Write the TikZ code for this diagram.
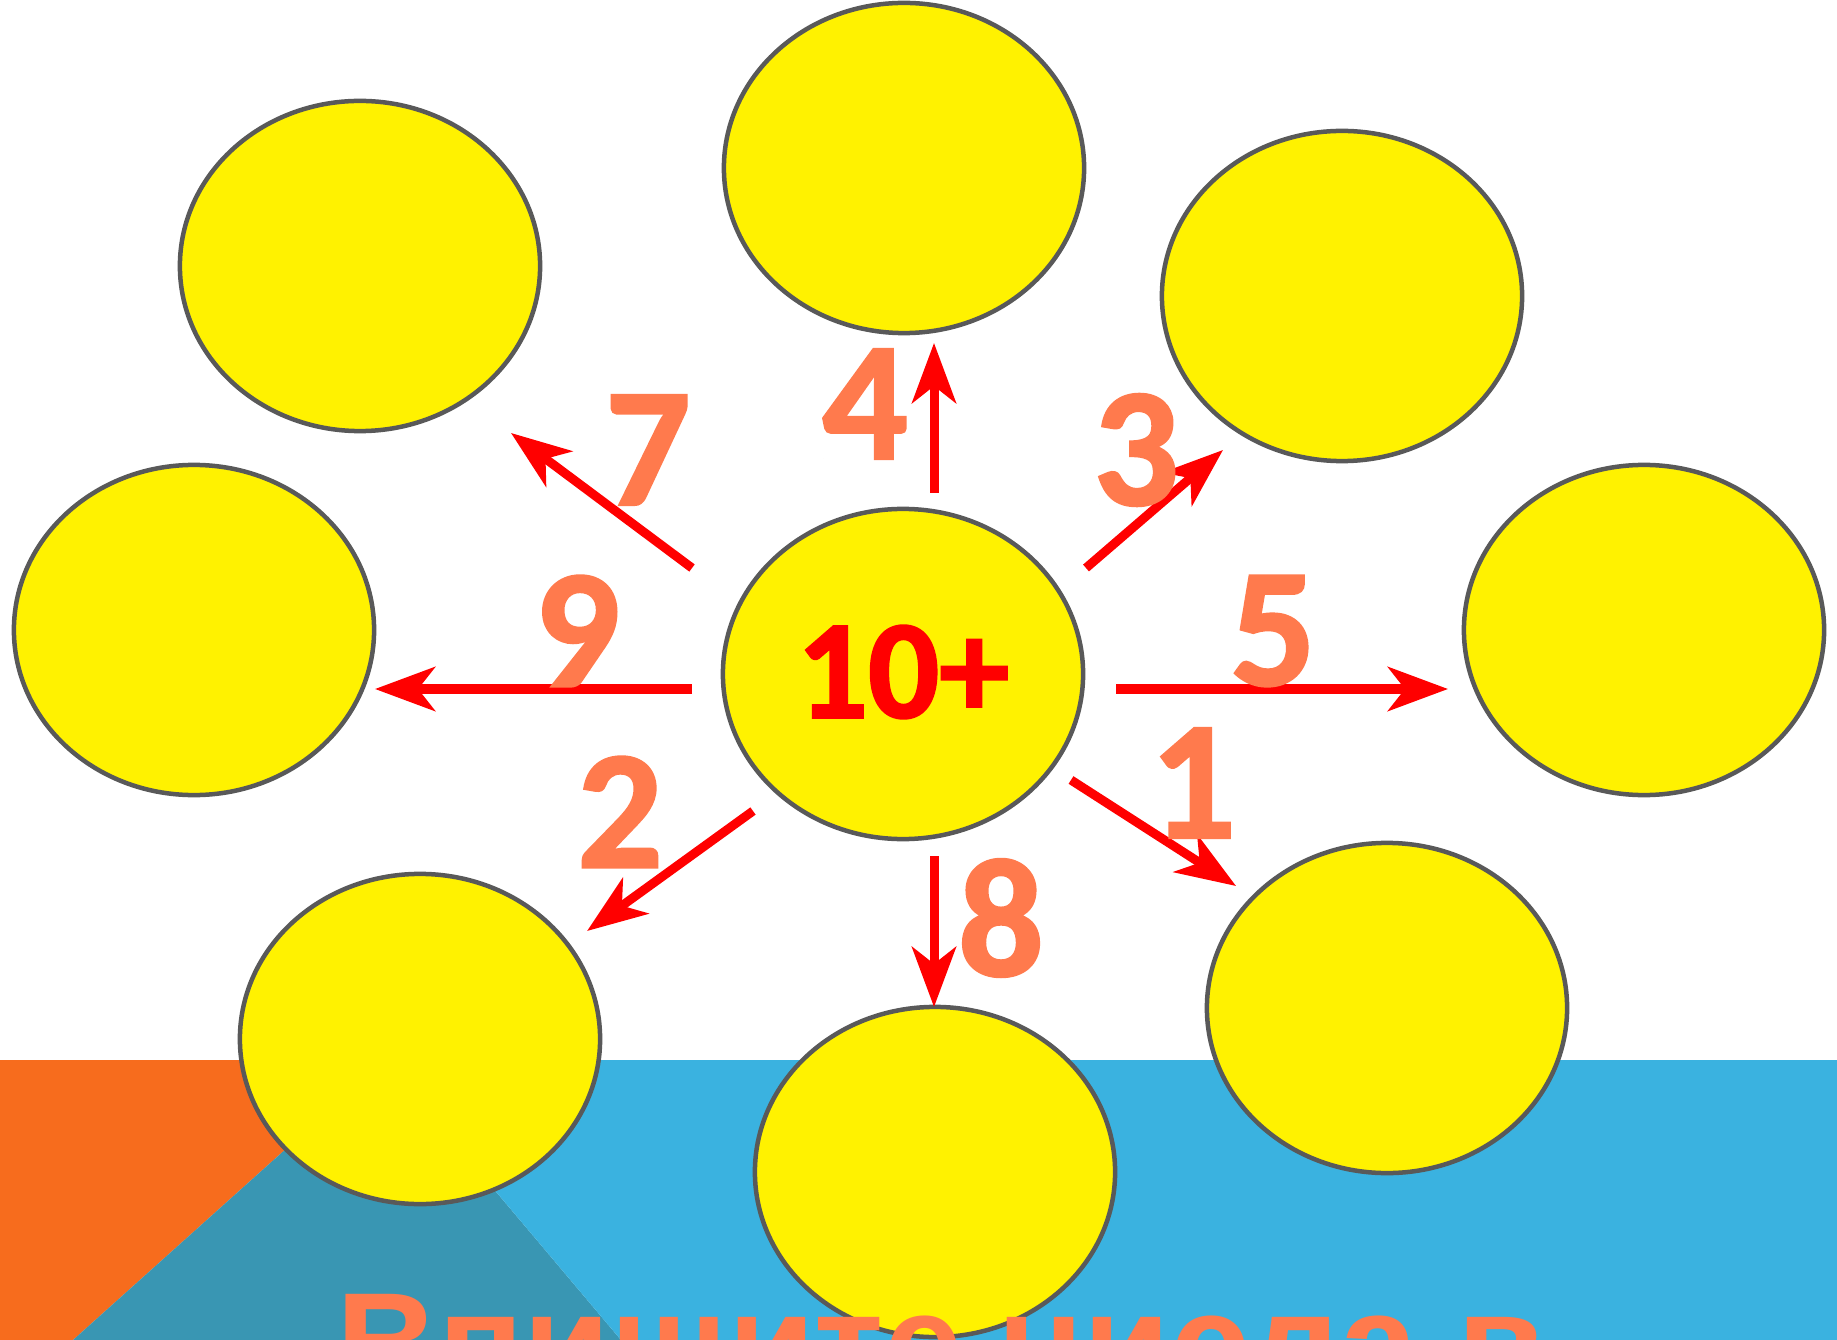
\documentclass[tikz,border=0pt]{standalone}
\usepackage{fontspec}
\setmainfont{Carlito}[BoldFeatures={FakeBold=1.6}]
\newfontfamily\capfont{Liberation Sans}
\usetikzlibrary{arrows.meta,shapes.geometric}
\definecolor{bandorange}{RGB}{247,108,29}
\definecolor{bandblue}{RGB}{58,178,224}
\definecolor{bandteal}{RGB}{57,150,179}
\definecolor{rim}{RGB}{89,89,89}
\definecolor{coral}{RGB}{255,122,77}

\begin{document}
\begin{tikzpicture}[
  x=0.01cm, y=-0.01cm,
  bubble/.style={ellipse,draw=rim,line width=0.045cm,fill=yellow,minimum width=3.6cm,minimum height=3.3cm,inner sep=0pt},
  num/.style={text=coral,font=\fontsize{48}{48}\selectfont\bfseries,inner sep=0pt},
  arr/.style={-{Stealth[length=0.6cm,width=0.44cm,inset=0.17cm]},red,line width=0.09cm}
]
  \useasboundingbox (0,0) rectangle (1837,1340);
  \clip (0,0) rectangle (1837,1340);
  % coloured band at the bottom
  \fill[bandorange] (0,1060) -- (385,1060) -- (73,1340) -- (0,1340) -- cycle;
  \fill[bandteal] (385,1060) -- (621,1340) -- (73,1340) -- cycle;
  \fill[bandblue] (385,1060) -- (1837,1060) -- (1837,1340) -- (621,1340) -- cycle;

  \node[bubble] (mid) at (903,674) {};
  \node[bubble] (top) at (904,168) {};
  \node[bubble] (tl) at (360,266) {};
  \node[bubble] (tr) at (1342,296) {};
  \node[bubble] (lft) at (194,630) {};
  \node[bubble] (rgt) at (1644,630) {};
  \node[bubble] (bl) at (420,1039) {};
  \node[bubble] (br) at (1387,1008) {};
  \node[bubble] (bot) at (935,1172) {};

  \node[text=red,font=\fontsize{40}{40}\selectfont\bfseries,inner sep=0pt] (sum) at (903,672) {10+};

  % arrow ends
  \coordinate (t4) at (934,493);  \coordinate (h4) at (934,343);
  \coordinate (t3) at (1086,568); \coordinate (h3) at (1223,450);
  \coordinate (t7) at (692,568);  \coordinate (h7) at (511,433);
  \coordinate (t9) at (692,689);  \coordinate (h9) at (375,689);
  \coordinate (t5) at (1116,689); \coordinate (h5) at (1448,689);
  \coordinate (t2) at (753,811);  \coordinate (h2) at (587,931);
  \coordinate (t1) at (1071,780); \coordinate (h1) at (1236,886);
  \coordinate (t8) at (934,856);  \coordinate (h8) at (934,1007);

  \foreach \k in {4,3,7,9,5,2,1,8}
    \draw[arr] (t\k) -- (h\k);

  \node[num] (n4) at (865,404) {4};
  \node[num] (n3) at (1136,450) {3};
  \node[num] (n7) at (648,450) {7};
  \node[num] (n9) at (577,631) {9};
  \node[num] (n5) at (1273,631) {5};
  \node[num] (n2) at (620,812) {2};
  \node[num] (n1) at (1193,783) {1};
  \node[num] (n8) at (1001,918) {8};

  \node[anchor=base,text=coral,font=\capfont\fontsize{41}{41}\selectfont\bfseries,inner sep=0pt] (caption) at (940,1393) {\scalebox{0.98}[1]{Впишите числа в}};
\end{tikzpicture}
\end{document}
